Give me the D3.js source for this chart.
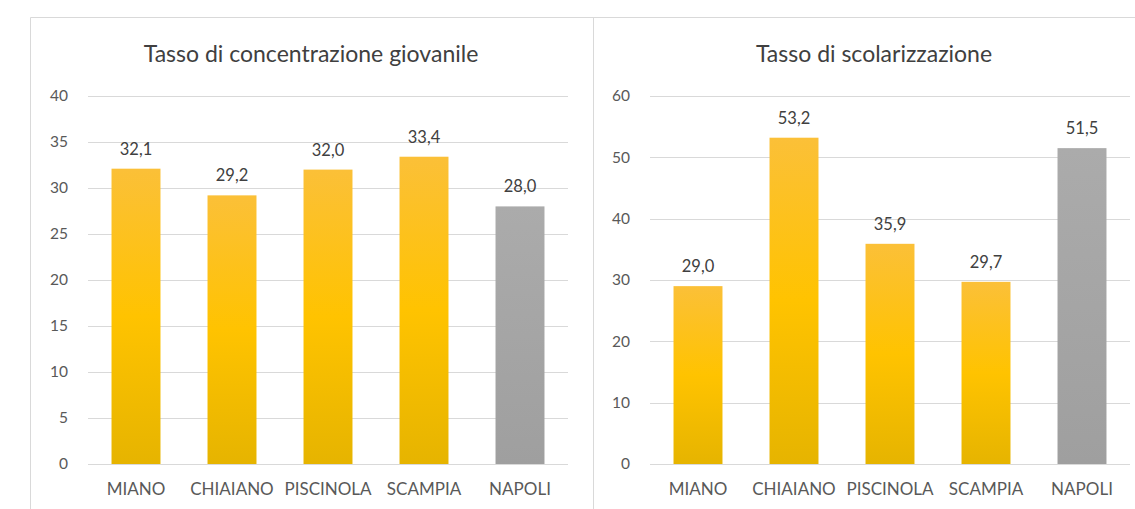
<!DOCTYPE html>
<html><head><meta charset="utf-8">
<script src="https://cdn.jsdelivr.net/npm/d3@7/dist/d3.min.js"></script>
<style>
html,body{margin:0;padding:0;background:#fff;}
svg{display:block;}
text{font-family:Lato,"Open Sans",sans-serif;}
</style></head>
<body>
<svg id="chart" width="1135" height="509"></svg>
<script>
const categories = ["MIANO","CHIAIANO","PISCINOLA","SCAMPIA","NAPOLI"];
const concentrazione = [32.1, 29.2, 32.0, 33.4, 28.0];
const scolarizzazione = [29.0, 53.2, 35.9, 29.7, 51.5];
const ticksLeft = [0,5,10,15,20,25,30,35,40];
const ticksRight = [0,10,20,30,40,50,60];
const titles = ["Tasso di concentrazione giovanile","Tasso di scolarizzazione"];

const svg = d3.select("#chart");
const defs = svg.append("defs");
function grad(id, stops){
  const g = defs.append("linearGradient").attr("id", id).attr("x1",0).attr("y1",0).attr("x2",0).attr("y2",1);
  stops.forEach(s => g.append("stop").attr("offset", s[0]).attr("stop-color", s[1]));
}
grad("gy", [[0,"#FBC038"],[0.5,"#FFC300"],[1,"#E6B400"]]);
grad("gg", [[0,"#ABABAB"],[0.5,"#A5A5A5"],[1,"#9F9F9F"]]);

const fmt = v => d3.format(".1f")(v).replace(".", ",");

// panel borders
svg.append("path")
  .attr("d", "M30.5,510 V17.5 H1135 M593.5,17.5 V510")
  .attr("fill","none").attr("stroke","#d9d9d9").attr("stroke-width",1);

function panel(cfg){
  const x = d3.scaleBand().domain(categories).range([cfg.x0, cfg.x1]).paddingInner(0.49).paddingOuter(0.245);
  const y = d3.scaleLinear().domain([0, cfg.max]).range([464, 96]);
  const g = svg.append("g");

  g.append("text").attr("x", cfg.titleX).attr("y", 62)
    .attr("text-anchor","middle").attr("font-size", 23).attr("fill","#404040")
    .text(cfg.title);

  const yAxis = d3.axisLeft(y).tickValues(cfg.ticks).tickSize(-(cfg.x1 - cfg.x0)).tickPadding(20);
  const ya = g.append("g").attr("transform", `translate(${cfg.x0},0)`).call(yAxis);
  ya.select(".domain").remove();
  ya.selectAll(".tick line").attr("stroke","#d9d9d9").attr("shape-rendering","crispEdges");
  ya.selectAll(".tick text").attr("font-size", 15.5).attr("fill","#595959").attr("font-family","Lato,sans-serif");

  const xAxis = d3.axisBottom(x).tickSize(0).tickPadding(19);
  const xa = g.append("g").attr("transform", `translate(0,464)`).call(xAxis);
  xa.select(".domain").remove();
  xa.selectAll(".tick text").attr("font-size", 17).attr("fill","#595959").attr("font-family","Lato,sans-serif");

  g.selectAll("rect.bar").data(cfg.values).join("rect").attr("class","bar")
    .attr("x", (d,i) => x(categories[i]))
    .attr("width", x.bandwidth())
    .attr("y", d => y(d))
    .attr("height", d => y(0) - y(d))
    .attr("fill", (d,i) => categories[i] === "NAPOLI" ? "url(#gg)" : "url(#gy)");

  g.selectAll("text.lbl").data(cfg.values).join("text").attr("class","lbl")
    .attr("x", (d,i) => x(categories[i]) + x.bandwidth()/2)
    .attr("y", d => y(d) - 14)
    .attr("text-anchor","middle").attr("font-size", 16.5).attr("fill","#404040")
    .text(d => fmt(d));
}

panel({x0:88, x1:568, max:40, ticks:ticksLeft, values:concentrazione, title:titles[0], titleX:311});
panel({x0:650, x1:1130, max:60, ticks:ticksRight, values:scolarizzazione, title:titles[1], titleX:874});
</script>
</body></html>
